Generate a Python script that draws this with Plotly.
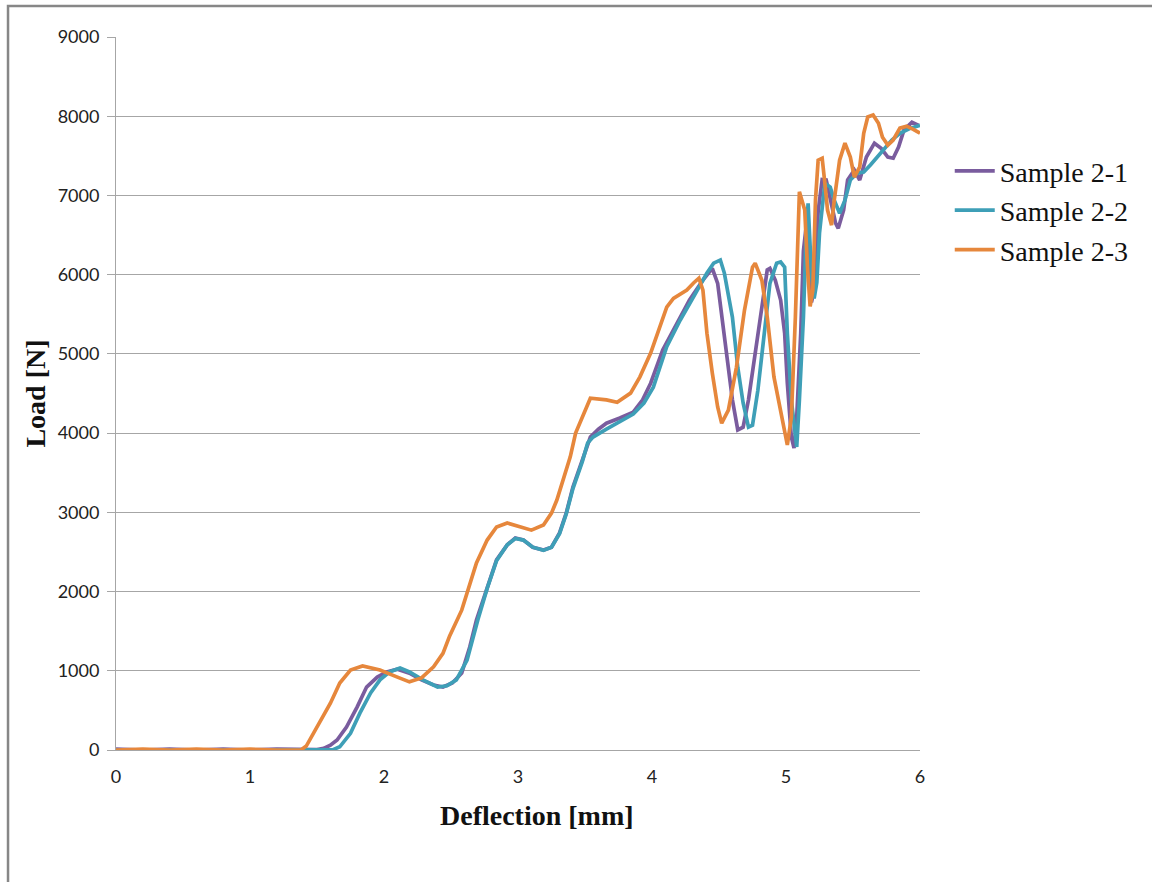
import plotly.graph_objects as go

# Load-deflection curves, three specimens of series 2
s21_x = [0.0, 0.2, 0.4, 0.6, 0.8, 1.0, 1.2, 1.4, 1.5, 1.55, 1.6, 1.65, 1.72, 1.80, 1.87, 1.95,
         2.02, 2.10, 2.19, 2.28, 2.37, 2.44, 2.51, 2.58, 2.64, 2.69, 2.77, 2.84, 2.92, 2.98,
         3.04, 3.11, 3.19, 3.25, 3.31, 3.36, 3.41, 3.48, 3.54, 3.60, 3.66, 3.76, 3.86, 3.93,
         3.99, 4.08, 4.19, 4.28, 4.38, 4.45, 4.49, 4.52, 4.56, 4.60, 4.64, 4.68, 4.72, 4.77,
         4.82, 4.86, 4.88, 4.92, 4.96, 4.99, 5.01, 5.04, 5.06, 5.08, 5.11, 5.13, 5.15, 5.17,
         5.19, 5.21, 5.24, 5.27, 5.30, 5.33, 5.37, 5.39, 5.43, 5.46, 5.51, 5.55, 5.60, 5.66,
         5.71, 5.76, 5.80, 5.84, 5.88, 5.94, 5.99]
s21_y = [10, 0, 10, 0, 10, 0, 10, 0, 5, 20, 60, 126, 290, 545, 795, 920,
         985, 1020, 970, 885, 820, 795, 845, 970, 1300, 1640, 2060, 2400, 2590, 2675,
         2650, 2560, 2525, 2560, 2740, 2990, 3320, 3660, 3950, 4050, 4125, 4190, 4265, 4420,
         4630, 5050, 5390, 5680, 5930, 6080, 5890, 5465, 4920, 4420, 4040, 4075, 4420, 5000,
         5550, 6060, 6080, 5930, 5680, 5260, 4630, 3950, 3810, 4200, 5260, 6300, 6600, 6200,
         5650, 5800, 6800, 7200, 7195, 6940, 6650, 6585, 6815, 7195, 7320, 7195, 7485, 7660,
         7595, 7485, 7470, 7610, 7825, 7925, 7885]

s22_x = [0.0, 0.4, 0.8, 1.2, 1.6, 1.62, 1.67, 1.75, 1.82, 1.90, 1.97, 2.04, 2.12, 2.19, 2.29,
         2.40, 2.47, 2.54, 2.62, 2.66, 2.70, 2.77, 2.84, 2.92, 2.98, 3.04, 3.11, 3.19, 3.25,
         3.31, 3.36, 3.41, 3.48, 3.52, 3.56, 3.66, 3.76, 3.86, 3.94, 4.01, 4.11, 4.21, 4.31,
         4.41, 4.46, 4.51, 4.54, 4.60, 4.64, 4.68, 4.72, 4.75, 4.79, 4.84, 4.88, 4.93, 4.96,
         4.99, 5.01, 5.04, 5.07, 5.08, 5.10, 5.13, 5.15, 5.165, 5.19, 5.21, 5.23, 5.25, 5.29,
         5.33, 5.36, 5.40, 5.44, 5.48, 5.53, 5.58, 5.63, 5.68, 5.72, 5.79, 5.85, 5.93, 6.00]
s22_y = [0, 0, 0, 0, 0, 5, 40, 210, 465, 720, 885, 985, 1035, 985, 885,
         795, 810, 885, 1135, 1390, 1640, 2040, 2390, 2590, 2670, 2650, 2560, 2520, 2560,
         2730, 2980, 3300, 3640, 3875, 3950, 4050, 4150, 4240, 4380, 4580, 5090, 5425, 5720,
         6020, 6145, 6185, 6020, 5465, 4830, 4380, 4075, 4100, 4540, 5260, 5890, 6145, 6160,
         6095, 5260, 4420, 3910, 3825, 4420, 5465, 6500, 6900, 6000, 5700, 5900, 6525, 7155,
         7105, 6940, 6775, 6940, 7195, 7280, 7295, 7385, 7485, 7570, 7700, 7785, 7850, 7885]

s23_x = [0.0, 0.2, 0.4, 0.6, 0.8, 1.0, 1.2, 1.38, 1.42, 1.47, 1.52, 1.60, 1.67, 1.75, 1.84,
         1.97, 2.10, 2.19, 2.28, 2.37, 2.44, 2.49, 2.58, 2.62, 2.69, 2.77, 2.84, 2.92, 3.01,
         3.10, 3.19, 3.25, 3.29, 3.34, 3.39, 3.43, 3.48, 3.54, 3.66, 3.74, 3.84, 3.91, 3.99,
         4.06, 4.11, 4.16, 4.26, 4.31, 4.35, 4.38, 4.41, 4.45, 4.49, 4.52, 4.57, 4.63, 4.69,
         4.75, 4.77, 4.82, 4.86, 4.91, 4.96, 5.01, 5.04, 5.07, 5.10, 5.14, 5.16, 5.18, 5.20,
         5.22, 5.24, 5.27, 5.29, 5.31, 5.34, 5.36, 5.40, 5.44, 5.48, 5.51, 5.55, 5.58, 5.61,
         5.65, 5.69, 5.72, 5.76, 5.80, 5.85, 5.90, 5.95, 6.00]
s23_y = [0, 10, 0, 10, 0, 10, 0, 0, 50, 200, 340, 590, 845, 1010, 1060,
         1010, 920, 860, 910, 1050, 1220, 1440, 1765, 1980, 2360, 2650, 2815, 2865, 2815,
         2775, 2840, 2990, 3155, 3445, 3700, 4000, 4200, 4440, 4420, 4390, 4505, 4710, 5010,
         5340, 5590, 5700, 5805, 5895, 5955, 5805, 5260, 4760, 4330, 4125, 4290, 4830, 5550,
         6095, 6145, 5930, 5465, 4710, 4290, 3850, 4200, 5465, 7045, 6815, 6095, 5600, 5800,
         6940, 7445, 7470, 7155, 6815, 6625, 6940, 7445, 7660, 7485, 7230, 7360, 7785, 7990,
         8015, 7910, 7735, 7635, 7700, 7850, 7875, 7835, 7785]

series = [
    ("Sample 2-1", s21_x, s21_y, "#7A5C9E"),
    ("Sample 2-2", s22_x, s22_y, "#3E9FB7"),
    ("Sample 2-3", s23_x, s23_y, "#E6873C"),
]

fig = go.Figure()
for name, xs, ys, color in series:
    fig.add_trace(go.Scatter(
        x=xs, y=ys, name=name, mode="lines", legendgroup=name,
        line=dict(color=color, width=3.7),
    ))

grid = "#A6A6A6"
serif_title = dict(family="Liberation Serif", size=28, color="#111111")
fig.update_layout(
    width=1152, height=882,
    margin=dict(l=116, r=232, t=37, b=132),
    paper_bgcolor="white", plot_bgcolor="white",
    font=dict(family="Lato", size=18, color="#222222"),
    showlegend=True,
    legend=dict(
        x=1.037, y=0.847, xanchor="left", yanchor="top",
        font=dict(family="Liberation Serif", size=28, color="#111111"),
        traceorder="grouped", tracegroupgap=0, itemwidth=40,
        bgcolor="rgba(0,0,0,0)",
    ),
    xaxis=dict(
        range=[0, 6], dtick=1, tick0=0,
        showgrid=False, zeroline=False,
        showline=True, linecolor=grid, linewidth=1,
        ticks="outside", ticklen=10, tickcolor="rgba(0,0,0,0)",
        tickfont=dict(family="Lato", size=18, color="#222222"),
    ),
    yaxis=dict(
        range=[0, 9000], dtick=1000, tick0=0,
        showgrid=True, gridcolor=grid, gridwidth=1, zeroline=False,
        showline=True, linecolor=grid, linewidth=1,
        ticks="outside", ticklen=8, tickcolor=grid, ticklabelstandoff=4,
        tickfont=dict(family="Lato", size=18, color="#222222"),
        title=dict(text="<b>Load [N]</b>", standoff=3, font=serif_title),
    ),
    annotations=[dict(
        text="<b>Deflection [mm]</b>", xref="paper", yref="paper",
        x=0.5236, y=-0.0912, xanchor="center", yanchor="middle",
        showarrow=False, font=serif_title,
    )],
    shapes=[dict(
        type="rect", xref="paper", yref="paper",
        x0=-0.1343, x1=1.30, y0=-0.20, y1=1.0435,
        line=dict(color="#878787", width=2.5), layer="below",
    )],
)

fig.write_html("out.html")
